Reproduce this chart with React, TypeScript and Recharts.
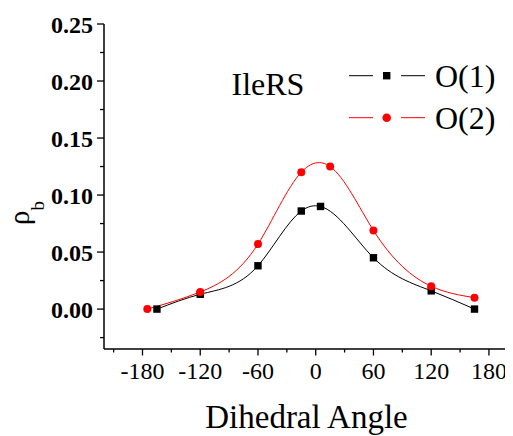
import React from "react";
import { LineChart, Line, XAxis, YAxis, Legend, Label } from "recharts";

const anglesO1 = [-165, -120, -60, -15, 5, 60, 120, 165];
const rhoO1 = [0.0, 0.013, 0.038, 0.086, 0.09, 0.045, 0.016, 0.0];
const anglesO2 = [-175, -120, -60, -15, 15, 60, 120, 165];
const rhoO2 = [0.0, 0.015, 0.057, 0.12, 0.125, 0.069, 0.02, 0.01];

const xMajorTicks = [-180, -120, -60, 0, 60, 120, 180];
const xMinorTicks = [-210, -150, -90, -30, 30, 90, 150];
const yMajorTicks = [0, 0.05, 0.1, 0.15, 0.2, 0.25];
const yMinorTicks = [-0.025, 0.025, 0.075, 0.125, 0.175, 0.225];

const seriesNames = ["O(1)", "O(2)"];
const panelTitle = "IleRS";
const xTitle = "Dihedral Angle";

const dataO1 = anglesO1.map((a, i) => ({ angle: a, rho: rhoO1[i] }));
const dataO2 = anglesO2.map((a, i) => ({ angle: a, rho: rhoO2[i] }));

const xTicks = [...xMajorTicks, ...xMinorTicks].sort((a, b) => a - b);
const yTicks = [...yMajorTicks, ...yMinorTicks].sort((a, b) => a - b);

const SERIF = "'Liberation Serif', 'Times New Roman', serif";
const W = 505;
const H = 428;

// Natural cubic spline y(x) curve factory (x-parametrised), drawn as bezier segments
function naturalSplineX(context: any) {
  let xs: number[] = [];
  let ys: number[] = [];
  return {
    areaStart() {},
    areaEnd() {},
    lineStart() {
      xs = [];
      ys = [];
    },
    point(x: number, y: number) {
      xs.push(+x);
      ys.push(+y);
    },
    lineEnd() {
      const n = xs.length;
      if (n === 0) return;
      context.moveTo(xs[0], ys[0]);
      if (n === 1) return;
      if (n === 2) {
        context.lineTo(xs[1], ys[1]);
        return;
      }
      const h: number[] = [];
      for (let i = 0; i < n - 1; i++) h.push(xs[i + 1] - xs[i]);
      const M = new Array(n).fill(0);
      const m = n - 2;
      const a: number[] = [];
      const b: number[] = [];
      const c: number[] = [];
      const d: number[] = [];
      for (let i = 1; i <= m; i++) {
        a.push(h[i - 1]);
        b.push(2 * (h[i - 1] + h[i]));
        c.push(h[i]);
        d.push(6 * ((ys[i + 1] - ys[i]) / h[i] - (ys[i] - ys[i - 1]) / h[i - 1]));
      }
      for (let i = 1; i < m; i++) {
        const w = a[i] / b[i - 1];
        b[i] -= w * c[i - 1];
        d[i] -= w * d[i - 1];
      }
      const sol = new Array(m).fill(0);
      sol[m - 1] = d[m - 1] / b[m - 1];
      for (let i = m - 2; i >= 0; i--) sol[i] = (d[i] - c[i] * sol[i + 1]) / b[i];
      for (let i = 0; i < m; i++) M[i + 1] = sol[i];
      for (let i = 0; i < n - 1; i++) {
        const hi = h[i];
        const s = (ys[i + 1] - ys[i]) / hi;
        const m0 = s - (hi * (2 * M[i] + M[i + 1])) / 6;
        const m1 = s + (hi * (M[i] + 2 * M[i + 1])) / 6;
        context.bezierCurveTo(
          xs[i] + hi / 3,
          ys[i] + (m0 * hi) / 3,
          xs[i + 1] - hi / 3,
          ys[i + 1] - (m1 * hi) / 3,
          xs[i + 1],
          ys[i + 1]
        );
      }
    },
  };
}

const isMajorX = (v: number) => xMajorTicks.includes(v);
const isMajorY = (v: number) => yMajorTicks.some((t) => Math.abs(t - v) < 1e-9);

const XTick = (props: any) => {
  const { x, y, payload } = props;
  const major = isMajorX(payload.value);
  return (
    <g>
      <line x1={x} x2={x} y1={y} y2={y + (major ? 6.5 : 3.5)} stroke="#000" strokeWidth={1.3} />
      {major && (
        <text x={x} y={y + 30} textAnchor="middle" fontFamily={SERIF} fontSize={24} fill="#000">
          {String(payload.value)}
        </text>
      )}
    </g>
  );
};

const YTick = (props: any) => {
  const { x, y, payload } = props;
  const major = isMajorY(payload.value);
  return (
    <g>
      <line x1={x - (major ? 7 : 4)} x2={x} y1={y} y2={y} stroke="#000" strokeWidth={1.3} />
      {major && (
        <text
          x={x - 11}
          y={y + 8.5}
          textAnchor="end"
          fontFamily={SERIF}
          fontWeight="bold"
          fontSize={24}
          fill="#000"
        >
          {payload.value.toFixed(2)}
        </text>
      )}
    </g>
  );
};

const SquareDot = (props: any) => {
  const { cx, cy, index } = props;
  if (cx == null || cy == null) return <g key={`sq-${index}`} />;
  return <rect key={`sq-${index}`} x={cx - 3.7} y={cy - 3.7} width={7.4} height={7.4} fill="#000" />;
};

const CircleDot = (props: any) => {
  const { cx, cy, index } = props;
  if (cx == null || cy == null) return <g key={`ci-${index}`} />;
  return <circle key={`ci-${index}`} cx={cx} cy={cy} r={4} fill="#ff0000" />;
};

const renderLegend = () => (
  <svg width={W} height={H} style={{ position: "absolute", left: 0, top: 0 }}>
    <text x={223.5} y={87} fontFamily={SERIF} fontSize={32} fill="#000">
      {panelTitle}
    </text>
    <line x1={341} x2={365} y1={67.7} y2={67.7} stroke="#000" strokeWidth={1} />
    <rect x={375} y={64} width={7.4} height={7.4} fill="#000" />
    <line x1={393} x2={417} y1={67.7} y2={67.7} stroke="#000" strokeWidth={1} />
    <text x={427} y={79} fontFamily={SERIF} fontSize={32} fill="#000">
      {seriesNames[0]}
    </text>
    <line x1={341} x2={365} y1={109.7} y2={109.7} stroke="#ff0000" strokeWidth={1} />
    <circle cx={378.7} cy={109.7} r={4.3} fill="#ff0000" />
    <line x1={393} x2={417} y1={109.7} y2={109.7} stroke="#ff0000" strokeWidth={1} />
    <text x={427} y={121} fontFamily={SERIF} fontSize={32} fill="#000">
      {seriesNames[1]}
    </text>
  </svg>
);

export default function App() {
  return (
    <LineChart width={W} height={H} margin={{ top: 16, right: 0, bottom: 0, left: 0 }}>
      <XAxis
        dataKey="angle"
        type="number"
        domain={[-220, 205]}
        allowDataOverflow
        ticks={xTicks}
        interval={0}
        tickLine={false}
        tickSize={0}
        tickMargin={0}
        tick={<XTick />}
        axisLine={{ stroke: "#000", strokeWidth: 1.5 }}
        height={87}
      >
        <Label
          content={(p: any) => {
            const vb = p.viewBox || { x: 96, y: 341, width: 409 };
            return (
              <text
                x={vb.x + vb.width / 2 - 2}
                y={vb.y + 79}
                textAnchor="middle"
                fontFamily={SERIF}
                fontSize={33}
                fill="#000"
              >
                {xTitle}
              </text>
            );
          }}
        />
      </XAxis>
      <YAxis
        dataKey="rho"
        type="number"
        domain={[-0.035, 0.25]}
        allowDataOverflow
        ticks={yTicks}
        interval={0}
        tickLine={false}
        tickSize={0}
        tickMargin={0}
        tick={<YTick />}
        axisLine={{ stroke: "#000", strokeWidth: 1.5 }}
        width={96}
      >
        <Label
          content={() => (
            <text x={21} y={217} transform="rotate(-90 21 217)" fontFamily={SERIF} fill="#000">
              <tspan fontSize={29}>ρ</tspan>
              <tspan fontSize={19} dy={15}>
                b
              </tspan>
            </text>
          )}
        />
      </YAxis>
      <Legend
        layout="horizontal"
        verticalAlign="middle"
        align="center"
        content={renderLegend}
        wrapperStyle={{ position: "absolute", left: 0, top: 0, width: W, height: H, pointerEvents: "none" }}
      />
      <Line
        data={dataO1}
        dataKey="rho"
        type={naturalSplineX as any}
        stroke="#000"
        strokeWidth={1}
        dot={SquareDot}
        activeDot={false}
        isAnimationActive={false}
      />
      <Line
        data={dataO2}
        dataKey="rho"
        type={naturalSplineX as any}
        stroke="#ff0000"
        strokeWidth={1}
        dot={CircleDot}
        activeDot={false}
        isAnimationActive={false}
      />
    </LineChart>
  );
}
